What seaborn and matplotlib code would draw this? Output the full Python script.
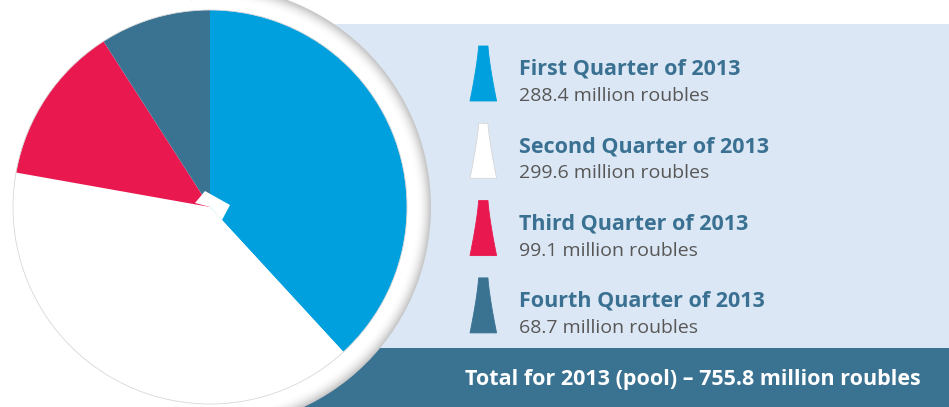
import numpy as np
import seaborn as sns
from matplotlib import pyplot as plt
from matplotlib.patches import Rectangle, Wedge, Circle, Polygon

sns.set_theme(style="white")
plt.rcParams['font.family'] = ['Open Sans', 'DejaVu Sans']

# data
quarters = ["First Quarter of 2013", "Second Quarter of 2013",
            "Third Quarter of 2013", "Fourth Quarter of 2013"]
amounts = [288.4, 299.6, 99.1, 68.7]
total_label = "Total for 2013 (pool) – 755.8 million roubles"
colors = ["#009fdd", "#ffffff", "#e9194f", "#3a7292"]

W, H = 949, 407
TITLE_COLOR = "#3a7192"
SUB_COLOR = "#575757"
PANEL = "#dbe7f4"
BAR = "#3a7292"


def Y(y_img):
    # reference is measured top-down in pixels, axes run bottom-up
    return H - y_img


fig = plt.figure(figsize=(W / 100, H / 100), dpi=100)
ax = fig.add_axes([0, 0, 1, 1])

# background panel and bottom bar
ax.add_patch(Rectangle((330, Y(348)), W - 330, 348 - 24, color=PANEL, lw=0, zorder=0))
ax.add_patch(Rectangle((250, 0), W - 250, H - 348, color=BAR, lw=0, zorder=0))

# pie geometry
cx, cy, r = 210, Y(207), 197

# white rim with soft shadow toward the right
for rr in np.arange(221, r, -1):
    f = max(0.0, (rr - 208) / 13)
    level = 1 - 0.22 * f ** 1.8
    ax.add_patch(Wedge((cx, cy), rr, -100, 95, facecolor=(level, level, level),
                       lw=0, zorder=1))

wedges, _ = ax.pie(amounts, colors=colors, startangle=90, counterclock=False,
                   center=(cx, cy), radius=r, frame=True,
                   wedgeprops=dict(linewidth=0))
for w in wedges:
    w.set_zorder(3)
ax.add_patch(Circle((cx, cy), r, fill=False, ec="#d8d8d8", lw=0.6, zorder=4))

# small white tab at the centre of the pie
tab = [(-15, -4), (-5, -16), (20, -2), (12, 13), (0, 0)]
ax.add_patch(Polygon([(cx + dx, cy - dy) for dx, dy in tab], closed=True,
                     facecolor="white", lw=0, zorder=5))


def legend_icon(xc, top_img, bot_img, color):
    t = np.linspace(0, 1, 40)
    half = 4.7 + 8.6 * t ** 1.3
    ys = Y(top_img + t * (bot_img - top_img))
    pts = list(zip(xc + half, ys)) + list(zip((xc - half)[::-1], ys[::-1]))
    ec = "#d6d6d6" if color == "#ffffff" else color
    ax.add_patch(Polygon(pts, closed=True, facecolor=color, ec=ec, lw=0.6, zorder=2))


step = 77.3
for i, (name, amt, col) in enumerate(zip(quarters, amounts, colors)):
    off = i * step
    legend_icon(483.3, 46 + off, 101 + off, col)
    ax.text(519, Y(75 + off), name, fontsize=15.5, fontweight="bold",
            color=TITLE_COLOR, va="baseline", ha="left")
    ax.text(519, Y(101 + off), f"{amt} million roubles", fontsize=14,
            color=SUB_COLOR, va="baseline", ha="left")

ax.text(465, Y(385), total_label, fontsize=15.5, fontweight="bold",
        color="white", va="baseline", ha="left")

ax.set_xlim(0, W)
ax.set_ylim(0, H)
ax.set_aspect("auto")
ax.axis("off")

fig.savefig("out.png", dpi=100)
